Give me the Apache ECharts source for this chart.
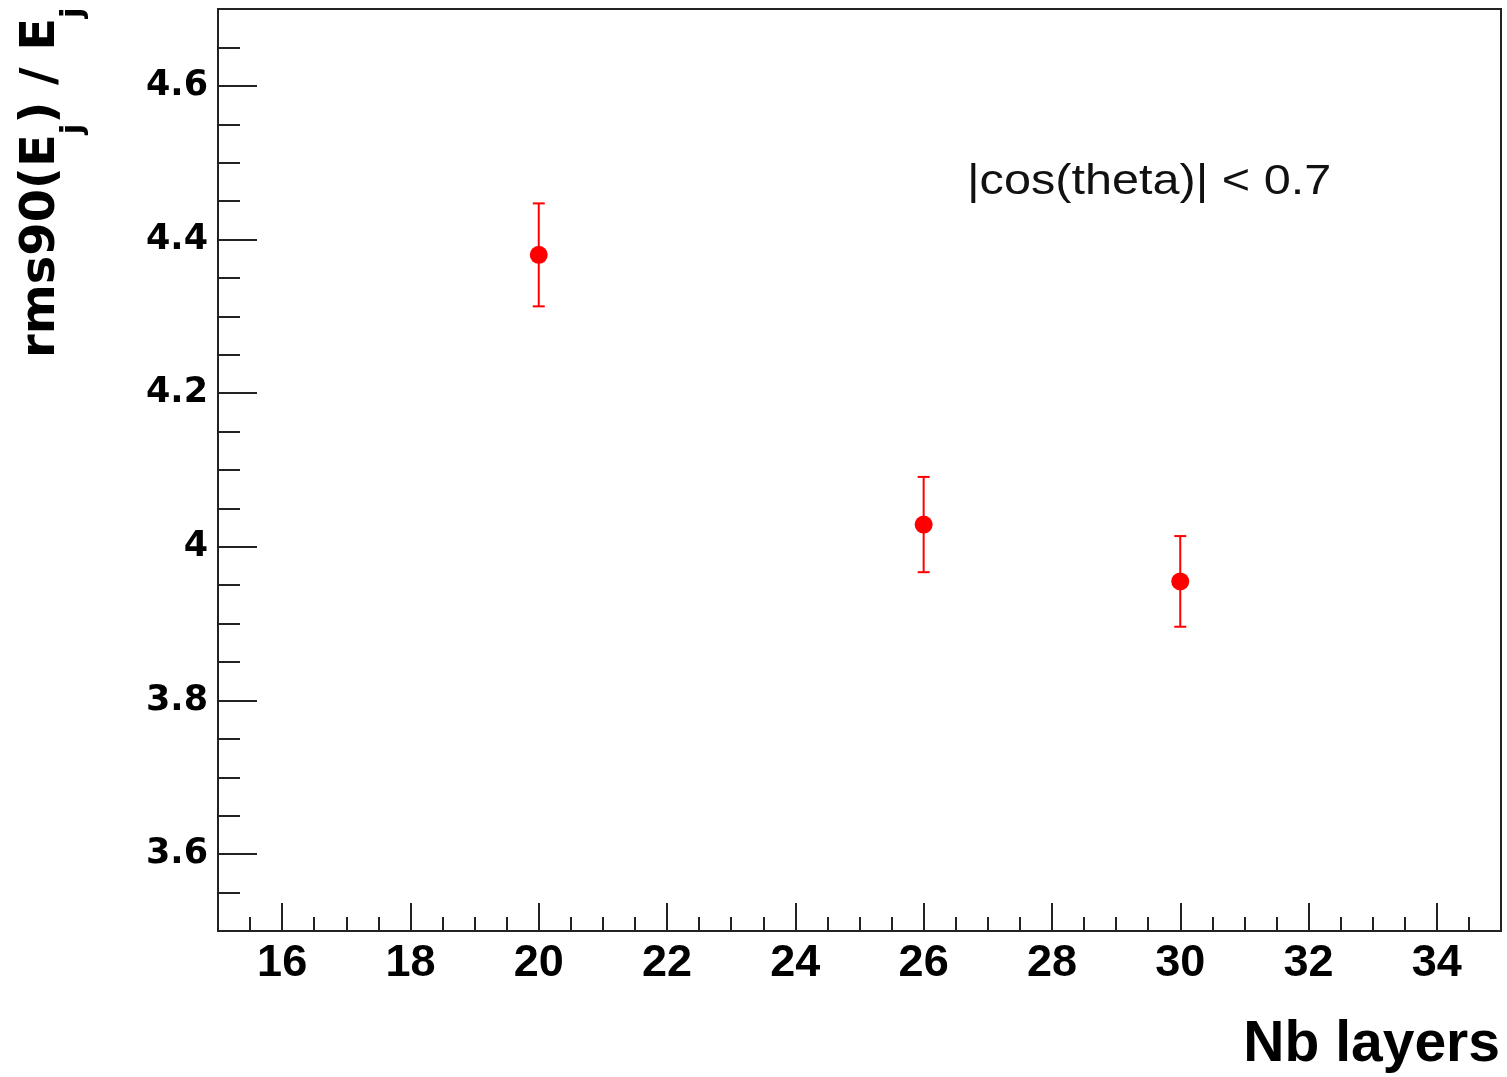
<!DOCTYPE html>
<html>
<head>
<meta charset="utf-8">
<script src="https://cdn.jsdelivr.net/npm/echarts@6/dist/echarts.min.js"></script>
<style>
  html, body { margin: 0; padding: 0; background: #fff; }
  #chart { width: 1507px; height: 1077px; }
</style>
</head>
<body>
<div id="chart"></div>
<script>
// data
const layers = [20, 26, 30]
const rms90 = [4.38, 4.029, 3.955]
const errors = [0.067, 0.062, 0.059]

const xRange = [15, 35]
const yRange = [3.5, 4.7]
const cutLabel = '|cos(theta)| < 0.7'
const xTitle = 'Nb layers'
const yTitleParts = ['rms90(E', 'j', ') / E', 'j']

const RED = '#ff0000'
const AXIS = '#222'

const chart = echarts.init(document.getElementById('chart'))

// measure text pieces so the subscripts can be placed after the main text
const measureCtx = document.createElement('canvas').getContext('2d')
const textWidth = (txt, font) => {
  measureCtx.font = font
  return measureCtx.measureText(txt).width
}

const mainSize = 48
const subSize = 31
const mainFont = `bold ${mainSize}px "DejaVu Sans"`
const subFont = `bold ${subSize}px "DejaVu Sans"`

const titleChildren = []
let pos = 0
yTitleParts.forEach((part, i) => {
  const isSub = i % 2 === 1
  titleChildren.push({
    type: 'text',
    x: pos,
    y: isSub ? 15 : -0.37 * mainSize,
    style: {
      text: part,
      fontFamily: 'DejaVu Sans',
      fontWeight: 'bold',
      fontSize: isSub ? subSize : mainSize,
      fill: '#000',
      align: 'left',
      verticalAlign: 'middle'
    }
  })
  pos += textWidth(part, isSub ? subFont : mainFont)
})

const errData = layers.map((x, i) => [x, rms90[i] - errors[i], rms90[i] + errors[i]])
const pointData = layers.map((x, i) => [x, rms90[i]])

const option = {
  animation: false,
  backgroundColor: '#fff',
  grid: {
    left: 218,
    right: 6,
    top: 9,
    bottom: 146,
    show: true,
    borderColor: AXIS,
    borderWidth: 2,
    containLabel: false,
    outerBoundsMode: 'none'
  },
  xAxis: [
    {
      type: 'value',
      min: xRange[0],
      max: xRange[1],
      splitNumber: 10,
      axisLine: { show: true, onZero: false, lineStyle: { color: AXIS, width: 2 } },
      axisTick: { show: true, inside: true, length: 28, lineStyle: { color: AXIS, width: 2 } },
      axisLabel: {
        showMinLabel: false,
        showMaxLabel: false,
        fontFamily: 'Liberation Sans',
        fontWeight: 'bold',
        fontSize: 45,
        color: '#000',
        margin: 10
      },
      splitLine: { show: false }
    },
    {
      // minor ticks every 0.5
      type: 'value',
      position: 'bottom',
      min: xRange[0],
      max: xRange[1],
      interval: 0.5,
      axisLine: { show: false },
      axisTick: { show: true, inside: true, length: 14, lineStyle: { color: AXIS, width: 2 } },
      axisLabel: { show: false },
      splitLine: { show: false }
    }
  ],
  yAxis: [
    {
      type: 'value',
      min: yRange[0],
      max: yRange[1],
      splitNumber: 6,
      axisLine: { show: true, onZero: false, lineStyle: { color: AXIS, width: 2 } },
      axisTick: { show: true, inside: true, length: 39, lineStyle: { color: AXIS, width: 2 } },
      axisLabel: {
        showMinLabel: false,
        showMaxLabel: false,
        fontFamily: 'DejaVu Sans',
        fontWeight: 'bold',
        fontSize: 35,
        color: '#000',
        margin: 10
      },
      splitLine: { show: false }
    },
    {
      // minor ticks every 0.05
      type: 'value',
      position: 'left',
      min: yRange[0],
      max: yRange[1],
      interval: 0.05,
      axisLine: { show: false },
      axisTick: { show: true, inside: true, length: 22, lineStyle: { color: AXIS, width: 2 } },
      axisLabel: { show: false },
      splitLine: { show: false }
    }
  ],
  series: [
    {
      type: 'custom',
      xAxisIndex: 0,
      yAxisIndex: 0,
      data: errData,
      encode: { x: 0, y: [1, 2] },
      renderItem: (params, api) => {
        const x = api.value(0)
        const lo = api.coord([x, api.value(1)])
        const hi = api.coord([x, api.value(2)])
        const cap = 6
        const style = { stroke: RED, lineWidth: 2 }
        return {
          type: 'group',
          children: [
            { type: 'line', shape: { x1: hi[0], y1: hi[1], x2: lo[0], y2: lo[1] }, style },
            { type: 'line', shape: { x1: hi[0] - cap, y1: hi[1], x2: hi[0] + cap, y2: hi[1] }, style },
            { type: 'line', shape: { x1: lo[0] - cap, y1: lo[1], x2: lo[0] + cap, y2: lo[1] }, style }
          ]
        }
      },
      z: 2
    },
    {
      type: 'scatter',
      xAxisIndex: 0,
      yAxisIndex: 0,
      data: pointData,
      symbol: 'circle',
      symbolSize: 18,
      itemStyle: { color: RED, opacity: 1 },
      z: 3
    }
  ],
  graphic: [
    {
      type: 'group',
      x: 59,
      y: 358,
      rotation: Math.PI / 2,
      children: titleChildren
    },
    {
      type: 'text',
      x: 1500,
      y: 1045,
      style: {
        text: xTitle,
        fontFamily: 'Liberation Sans',
        fontWeight: 'bold',
        fontSize: 57,
        fill: '#000',
        align: 'right',
        verticalAlign: 'middle'
      }
    },
    {
      type: 'text',
      x: 967,
      y: 182,
      scaleX: 1.13,
      style: {
        text: cutLabel,
        fontFamily: 'Liberation Sans',
        fontSize: 43,
        fill: '#111',
        align: 'left',
        verticalAlign: 'middle'
      }
    }
  ]
}

chart.setOption(option)

window.addEventListener('resize', () => {
  chart.resize()
})
</script>
</body>
</html>
